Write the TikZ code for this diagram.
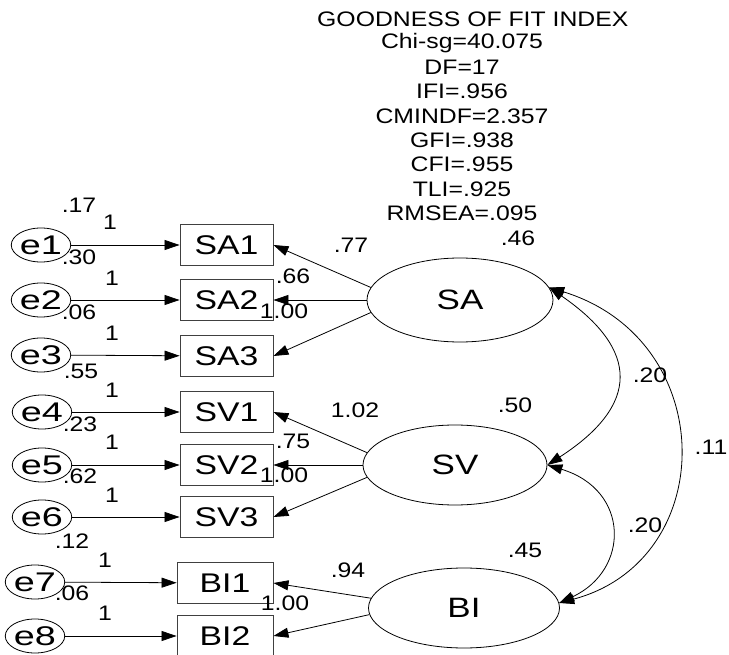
\documentclass[tikz,border=0pt]{standalone}
\usepackage{fontspec}
\setmainfont{Liberation Sans}[FakeStretch=1.18]
\newfontfamily\boxfont{Liberation Sans}[FakeStretch=1.25]
\newfontfamily\efont{Liberation Sans}[FakeStretch=1.4]
\usetikzlibrary{arrows.meta,shapes.geometric}
\begin{document}
\begin{tikzpicture}[x=1pt,y=-1pt,
  lbl/.style={font=\fontsize{21}{21}\selectfont, inner sep=0pt},
  obs/.style={draw=black!75, line width=0.9pt, minimum width=93pt, minimum height=41pt, inner sep=0pt, font=\boxfont\fontsize{27}{27}\selectfont},
  lat/.style={ellipse, draw, line width=0.8pt, minimum width=186pt, minimum height=82pt, inner sep=0pt, font=\boxfont\fontsize{28}{28}\selectfont},
  err/.style={ellipse, draw, line width=0.8pt, minimum width=53pt, minimum height=34pt, inner sep=0pt, font=\efont\fontsize{27}{27}\selectfont},
  arr/.style={-{Triangle[length=15pt,width=10pt]}, line width=0.8pt},
  cov/.style={{Triangle[length=15pt,width=10pt]}-{Triangle[length=15pt,width=10pt]}, line width=0.8pt}]
\useasboundingbox (0,0) rectangle (729,655);
\clip (0,0) rectangle (729,655);
\fill[white] (0,0) rectangle (729,655);

% fit indices
\node[lbl, anchor=west] (title) at (317,19) {GOODNESS OF FIT INDEX};
\node[lbl] (chi) at (462,43) {Chi-sg=40.075};
\node[lbl] (df) at (462,67) {DF=17};
\node[lbl] (ifi) at (462,91) {IFI=.956};
\node[lbl] (cmin) at (462,116) {CMINDF=2.357};
\node[lbl] (gfi) at (462,140) {GFI=.938};
\node[lbl] (cfi) at (462,164) {CFI=.955};
\node[lbl] (tli) at (462,189) {TLI=.925};
\node[lbl] (rmsea) at (462,213) {RMSEA=.095};

% observed
\node[obs] (SA1) at (226.5,245) {SA1};
\node[obs] (SA2) at (226.5,300) {SA2};
\node[obs] (SA3) at (226.5,356) {SA3};
\node[obs] (SV1) at (226.5,412) {SV1};
\node[obs] (SV2) at (226.5,465) {SV2};
\node[obs] (SV3) at (226.5,517) {SV3};
\node[obs, minimum width=96pt] (BI1) at (225,583) {BI1};
\node[obs, minimum width=96pt] (BI2) at (225,636) {BI2};

% errors
\node[err] (e1) at (41,245) {e1};
\node[err] (e2) at (41,300) {e2};
\node[err] (e3) at (41,355) {e3};
\node[err] (e4) at (42,412) {e4};
\node[err] (e5) at (42,465) {e5};
\node[err] (e6) at (42,517) {e6};
\node[err] (e7) at (35,582) {e7};
\node[err] (e8) at (35,636) {e8};

% latents
\node[lat, minimum height=84pt] (SA) at (460,300) {SA};
\node[lat, minimum width=184pt, minimum height=80pt] (SV) at (455,465) {SV};
\node[lat, minimum width=191pt, minimum height=80pt] (BI) at (464,608) {BI};

% error paths
\foreach \e/\o in {e1/SA1,e2/SA2,e3/SA3,e4/SV1,e5/SV2,e6/SV3,e7/BI1,e8/BI2}
  \draw[arr] (\e) -- (\o);

% loadings
\draw[arr] (SA.172) -- (SA1.east);
\draw[arr] (SA.west) -- (SA2.east);
\draw[arr] (SA.188) -- (SA3.east);
\draw[arr] (SV.172) -- (SV1.east);
\draw[arr] (SV.west) -- (SV2.east);
\draw[arr] (SV.188) -- (SV3.east);
\draw[arr] (BI.174) -- (BI1.east);
\draw[arr] (BI.184) -- (BI2.east);

% covariances
\draw[cov] (SA.8) .. controls (640,350) and (640,405) .. (SV.east);
\draw[cov] (SA.8) .. controls (720,340) and (720,560) .. (BI.3);
\draw[cov] (SV.east) .. controls (630,490) and (630,570) .. (BI.3);

% labels: error side
\node[lbl] (v1) at (79,205) {.17};
\node[lbl] (w1) at (110,222) {1};
\node[lbl] (v2) at (79,257) {.30};
\node[lbl] (w2) at (112,278) {1};
\node[lbl] (v3) at (79,312) {.06};
\node[lbl] (w3) at (112,333) {1};
\node[lbl] (v4) at (81,371) {.55};
\node[lbl] (w4) at (112,390) {1};
\node[lbl] (v5) at (80,424) {.23};
\node[lbl] (w5) at (112,442) {1};
\node[lbl] (v6) at (80,476) {.62};
\node[lbl] (w6) at (112,495) {1};
\node[lbl] (v7) at (72,541) {.12};
\node[lbl] (w7) at (105,560) {1};
\node[lbl] (v8) at (72,593) {.06};
\node[lbl] (w8) at (105,613) {1};

% loading labels
\node[lbl] (lSA1) at (351,245) {.77};
\node[lbl] (lSA2) at (293,276) {.66};
\node[lbl] (lSA3) at (284,311) {1.00};
\node[lbl] (vSA) at (518,238) {.46};
\node[lbl] (lSV1) at (355,410) {1.02};
\node[lbl] (lSV2) at (293,441) {.75};
\node[lbl] (lSV3) at (284,475) {1.00};
\node[lbl] (vSV) at (515,405) {.50};
\node[lbl] (lBI1) at (348,570) {.94};
\node[lbl] (lBI2) at (285,603) {1.00};
\node[lbl] (vBI) at (525,550) {.45};

% covariance labels
\node[lbl] (c1) at (650,375) {.20};
\node[lbl] (c2) at (711,447) {.11};
\node[lbl] (c3) at (645,525) {.20};
\end{tikzpicture}
\end{document}
